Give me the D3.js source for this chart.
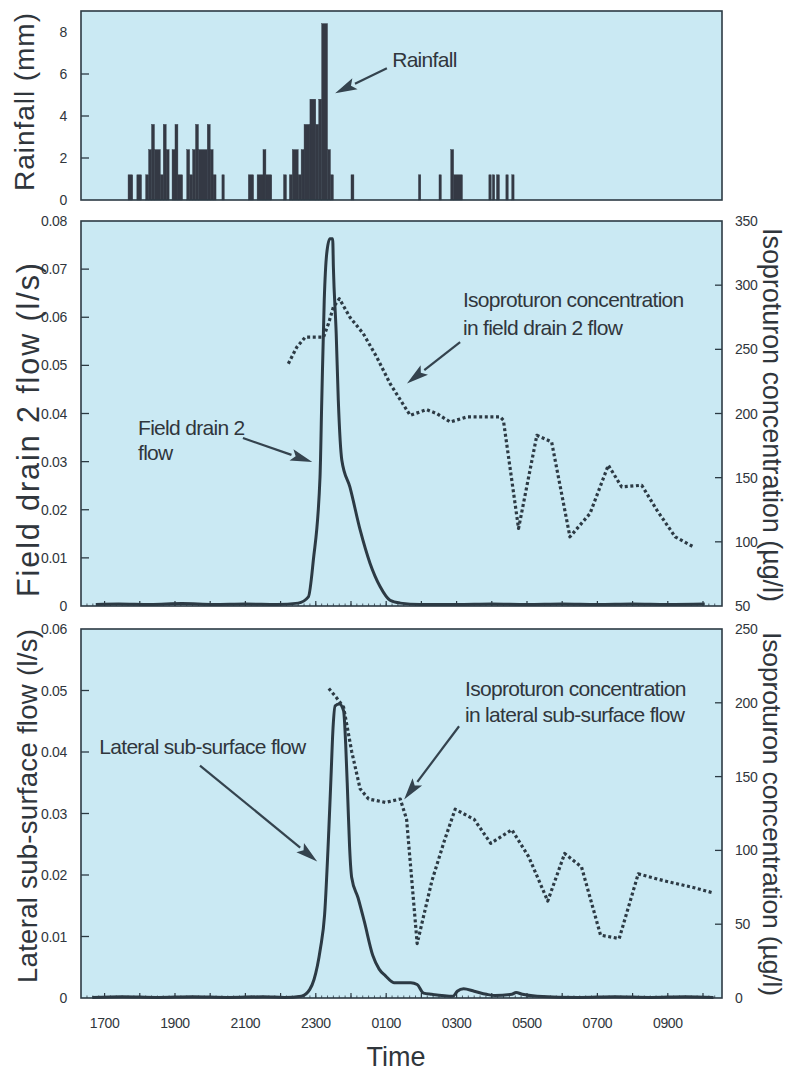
<!DOCTYPE html>
<html>
<head>
<meta charset="utf-8">
<script src="https://cdn.jsdelivr.net/npm/d3@7"></script>
<style>
  body { margin: 0; background: #ffffff; }
  svg { display: block; }
  text { font-family: "Liberation Sans", Arial, Helvetica, sans-serif; fill: #30363c; }
</style>
</head>
<body>
<svg id="chart" width="790" height="1074"></svg>
<script>
// ---------- Rainfall (tipping-bucket totals, minutes after 17:00) ----------
const rainStartMin = [40, 55, 70, 75, 80, 85, 95, 100, 105, 115, 120, 125, 140, 145, 150, 155, 160, 175, 180, 185, 200,
  245, 260, 270, 275, 305, 315, 320, 330, 335, 340, 350, 360, 365, 370, 380, 385, 420,
  535, 570, 590, 595, 655, 661, 668, 684, 694];
const rainEndMin = [48, 63, 75, 80, 85, 95, 100, 105, 110, 120, 125, 133, 145, 150, 155, 160, 175, 180, 185, 190, 204,
  254, 270, 275, 285, 310, 320, 330, 335, 340, 350, 360, 365, 370, 380, 385, 390, 425,
  539, 574, 595, 610, 659, 665, 673, 688, 698];
const rainMm = [1.2, 1.2, 1.2, 2.4, 3.6, 2.4, 1.2, 3.6, 2.4, 2.4, 3.6, 1.2, 2.4, 1.2, 2.4, 3.6, 2.4, 3.6, 2.4, 1.2, 1.2,
  1.2, 1.2, 2.4, 1.2, 1.2, 1.2, 2.4, 1.2, 2.4, 3.6, 4.8, 3.6, 4.8, 8.4, 2.4, 1.2, 1.2,
  1.2, 1.2, 2.4, 1.2, 1.2, 1.2, 1.2, 1.2, 1.2];

// ---------- Field drain 2 (time in clock hours, continuing past midnight) ----------
const drainFlowTime = [16.75, 17.4, 18.3, 19.2, 20.1, 21.0, 21.9, 22.5, 22.79, 22.93, 23.12, 23.17, 23.24, 23.31,
  23.40, 23.48, 23.50, 23.58, 23.64, 23.74, 23.97, 24.26, 24.54, 24.83, 25.11, 25.40, 25.96, 27.0, 28.0, 29.0,
  30.0, 31.0, 32.0, 33.0, 34.05];
const drainFlow = [0.0003, 0.0004, 0.0003, 0.0005, 0.0003, 0.0004, 0.0003, 0.0006, 0.0019, 0.0095, 0.0268, 0.0427,
  0.0635, 0.0732, 0.0763, 0.0763, 0.0704, 0.0566, 0.0427, 0.0303, 0.0247, 0.0158, 0.0089, 0.0040, 0.0012, 0.0006,
  0.0003, 0.0003, 0.0004, 0.0003, 0.0004, 0.0003, 0.0004, 0.0003, 0.0004];

const drainConcTime = [22.22, 22.46, 22.70, 23.22, 23.36, 23.50, 23.67, 23.97, 24.35, 24.73, 25.11, 25.68, 26.15,
  26.44, 26.82, 27.29, 28.24, 28.33, 28.76, 29.28, 29.70, 30.22, 30.79, 31.31, 31.69, 32.26, 32.69, 33.21, 33.73];
const drainConc = [238.8, 251.7, 259.5, 259.5, 270, 282.9, 289.4, 275, 262.2, 244, 223.3, 198.6, 203, 199.9, 193.4,
  197.3, 197.3, 194.7, 110.4, 183, 177.8, 103.9, 122.1, 159.7, 142.8, 144.1, 124.7, 103.9, 96.1];

// ---------- Lateral sub-surface flow ----------
const lateralFlowTime = [16.65, 17.5, 18.5, 19.5, 20.5, 21.5, 22.11, 22.59, 22.83, 22.95, 23.13, 23.25, 23.37, 23.43,
  23.49, 23.55, 23.67, 23.79, 23.85, 23.91, 23.96, 24.02, 24.20, 24.38, 24.62, 24.80, 24.98, 25.22, 25.70, 25.88,
  26.06, 26.30, 26.90, 27.02, 27.20, 27.50, 27.85, 28.09, 28.57, 28.69, 28.87, 29.29, 30.49, 31.5, 32.5, 33.5, 34.3];
const lateralFlow = [0.0001, 0.0002, 0.0001, 0.0002, 0.0001, 0.0002, 0.0001, 0.0003, 0.0014, 0.003, 0.008, 0.0135,
  0.0273, 0.0356, 0.0439, 0.0475, 0.0478, 0.0467, 0.0412, 0.0323, 0.0246, 0.0196, 0.0163, 0.0124, 0.0069, 0.0047,
  0.0036, 0.0025, 0.0025, 0.0022, 0.0008, 0.0006, 0.0003, 0.0011, 0.0015, 0.0011, 0.0006, 0.0004, 0.0006, 0.0009,
  0.0006, 0.0003, 0.0001, 0.0002, 0.0001, 0.0002, 0.0001];

const lateralConcTime = [23.37, 23.61, 23.79, 24.02, 24.26, 24.50, 24.98, 25.40, 25.58, 25.88, 26.30, 26.66, 26.96,
  27.50, 27.97, 28.57, 29.05, 29.59, 30.07, 30.55, 31.09, 31.62, 32.16, 32.88, 33.72, 34.26];
const lateralConc = [209.7, 202.8, 197, 167, 141.7, 134.8, 132.5, 134.8, 121, 36.9, 79.5, 107.1, 127.9, 121, 104.8,
  114, 95.6, 65.7, 97.9, 88.7, 42.6, 40.3, 84.1, 79.5, 74.9, 71.4];

// ---------- Axis ticks ----------
const timeTicks = [17, 19, 21, 23, 25, 27, 29, 31, 33];
const rainTicks = [0, 2, 4, 6, 8];
const drainFlowTicks = [0, 0.01, 0.02, 0.03, 0.04, 0.05, 0.06, 0.07, 0.08];
const drainConcTicks = [50, 100, 150, 200, 250, 300, 350];
const lateralFlowTicks = [0, 0.01, 0.02, 0.03, 0.04, 0.05, 0.06];
const lateralConcTicks = [0, 50, 100, 150, 200, 250];

// ---------- Layout ----------
const INK = "#2c3a44";
const FILL = "#cae9f3";
const left = 81, right = 722;
const x = d3.scaleLinear().domain([16.33, 34.54]).range([left, right]);

const svg = d3.select("#chart");

const yRain = d3.scaleLinear().domain([0, 9]).range([200, 11]);
const yDrain = d3.scaleLinear().domain([0, 0.08]).range([606, 221]);
const yDrainC = d3.scaleLinear().domain([50, 350]).range([606, 221]);
const yLat = d3.scaleLinear().domain([0, 0.06]).range([998, 629]);
const yLatC = d3.scaleLinear().domain([0, 250]).range([998, 629]);

function panel(y) {
  const [b, t] = y.range();
  svg.append("rect").attr("x", left).attr("y", t).attr("width", right - left).attr("height", b - t)
    .attr("fill", FILL).attr("stroke", "none");
}
function frame(y) {
  const [b, t] = y.range();
  svg.append("rect").attr("x", left).attr("y", t).attr("width", right - left).attr("height", b - t)
    .attr("fill", "none").attr("stroke", INK).attr("stroke-width", 1.6);
}
function leftAxis(y, ticks, fmt) {
  const g = svg.append("g");
  g.selectAll("line").data(ticks.slice(1, -1)).join("line")
    .attr("x1", left).attr("x2", left + 8).attr("y1", d => y(d)).attr("y2", d => y(d))
    .attr("stroke", INK).attr("stroke-width", 1.3);
  g.selectAll("text").data(ticks).join("text")
    .attr("x", left - 14).attr("y", d => y(d)).attr("dy", "0.36em")
    .attr("text-anchor", "end").attr("font-size", 14).attr("letter-spacing", -0.3)
    .text(fmt);
}
function rightAxis(y, ticks) {
  const g = svg.append("g");
  g.selectAll("line").data(ticks.slice(1, -1)).join("line")
    .attr("x1", right - 7).attr("x2", right).attr("y1", d => y(d)).attr("y2", d => y(d))
    .attr("stroke", INK).attr("stroke-width", 1.3);
  g.selectAll("text").data(ticks).join("text")
    .attr("x", right + 13).attr("y", d => y(d)).attr("dy", "0.36em")
    .attr("text-anchor", "start").attr("font-size", 14).attr("letter-spacing", -0.3)
    .text(d => d);
}
function timeMinorTicks(y) {
  const base = y.range()[0];
  const minors = d3.range(16.5, 34.5, 1 / 6);
  svg.append("g").selectAll("line").data(minors).join("line")
    .attr("x1", d => x(d)).attr("x2", d => x(d)).attr("y1", base).attr("y2", base - 2.5)
    .attr("stroke", INK).attr("stroke-width", 0.8);
  svg.append("g").selectAll("line").data(d3.range(17, 35)).join("line")
    .attr("x1", d => x(d)).attr("x2", d => x(d)).attr("y1", base).attr("y2", base - 5)
    .attr("stroke", INK).attr("stroke-width", 1.2);
}
// Rotated axis title stretched along the axis to the given length
function yTitle(text, bx, cy, size, len, rot) {
  svg.append("text").attr("transform", `translate(${bx},${cy}) rotate(${rot})`)
    .attr("text-anchor", "middle").attr("font-size", size).attr("fill", "#3a3f44")
    .attr("textLength", len).attr("lengthAdjust", "spacing").text(text);
}
function note(lines, px, py, lh) {
  const t = svg.append("text").attr("x", px).attr("y", py).attr("font-size", 21)
    .attr("letter-spacing", -0.7).attr("fill", "#2f3d48");
  lines.forEach((s, i) => t.append("tspan").attr("x", px).attr("dy", i ? lh : 0).text(s));
}
function arrow(x1, y1, x2, y2) {
  const ang = Math.atan2(y2 - y1, x2 - x1);
  const L = 22, Wd = 6;
  const bx = x2 - L * Math.cos(ang), by = y2 - L * Math.sin(ang);
  svg.append("line").attr("x1", x1).attr("y1", y1).attr("x2", bx).attr("y2", by)
    .attr("stroke", "#34434e").attr("stroke-width", 2.2);
  const px = -Math.sin(ang) * Wd, py = Math.cos(ang) * Wd;
  svg.append("path")
    .attr("d", `M${x2},${y2}L${bx + px},${by + py}L${bx + L * 0.2 * Math.cos(ang)},${by + L * 0.2 * Math.sin(ang)}L${bx - px},${by - py}Z`)
    .attr("fill", "#34434e");
}

// ---------- Panels ----------
panel(yRain); panel(yDrain); panel(yLat);

// Rainfall bars (thin same-colour stroke closes seams between adjacent bins)
const rain = rainStartMin.map((s, i) => ({ t0: 17 + s / 60, t1: 17 + rainEndMin[i] / 60, v: rainMm[i] }));
svg.append("g").selectAll("rect").data(rain).join("rect")
  .attr("x", d => x(d.t0)).attr("width", d => x(d.t1) - x(d.t0))
  .attr("y", d => yRain(d.v)).attr("height", d => yRain(0) - yRain(d.v))
  .attr("fill", "#343944").attr("stroke", "#343944").attr("stroke-width", 0.4);

// Flow and concentration lines
const zip = (a, b) => a.map((t, i) => [t, b[i]]);
function drawLine(data, y, dashed, curve) {
  svg.append("path").datum(data)
    .attr("d", d3.line().x(d => x(d[0])).y(d => y(d[1])).curve(curve))
    .attr("fill", "none").attr("stroke", INK).attr("stroke-width", dashed ? 3.2 : 3)
    .attr("stroke-dasharray", dashed ? "3,2.6" : null).attr("stroke-linejoin", "round");
}
timeMinorTicks(yDrain);
timeMinorTicks(yLat);
drawLine(zip(drainFlowTime, drainFlow), yDrain, false, d3.curveMonotoneX);
drawLine(zip(drainConcTime, drainConc), yDrainC, true, d3.curveLinear);
drawLine(zip(lateralFlowTime, lateralFlow), yLat, false, d3.curveMonotoneX);
drawLine(zip(lateralConcTime, lateralConc), yLatC, true, d3.curveLinear);

frame(yRain); frame(yDrain); frame(yLat);

// Axes
const trim = d => d === 0 ? "0" : d3.format(".2f")(d);
leftAxis(yRain, rainTicks, d => d);
leftAxis(yDrain, drainFlowTicks, trim);
leftAxis(yLat, lateralFlowTicks, trim);
rightAxis(yDrainC, drainConcTicks);
rightAxis(yLatC, lateralConcTicks);

svg.append("g").selectAll("text").data(timeTicks).join("text")
  .attr("x", d => x(d)).attr("y", 1028).attr("text-anchor", "middle")
  .attr("font-size", 14).attr("letter-spacing", -0.4)
  .text(d => String(d % 24).padStart(2, "0") + "00");

svg.append("text").attr("x", 396).attr("y", 1066).attr("text-anchor", "middle")
  .attr("font-size", 27).attr("fill", "#3a3f44").text("Time");

// Axis titles
yTitle("Rainfall (mm)", 34, 102, 28, 178, -90);
yTitle("Field drain 2 flow (l/s)", 39, 430, 30.5, 334, -90);
yTitle("Lateral sub-surface flow (l/s)", 37, 806, 27.5, 354, -90);
yTitle("Isoproturon concentration (µg/l)", 763, 415, 27, 374, 90);
yTitle("Isoproturon concentration (µg/l)", 763, 814, 26.5, 364, 90);

// Annotations, anchored in data units
note(["Rainfall"], x(25.17), yRain(6.35), 0);
arrow(x(25.02), yRain(6.27), x(23.55), yRain(5.08));

note(["Isoproturon concentration", "in field drain 2 flow"], x(27.18), yDrainC(282.6), 28);
arrow(x(27.10), yDrainC(255.6), x(25.59), yDrainC(223.3));

note(["Field drain 2", "flow"], x(17.95), yDrain(0.0355), 25);
arrow(x(20.93), yDrain(0.0349), x(22.9), yDrain(0.0299));

note(["Isoproturon concentration", "in lateral sub-surface flow"], x(27.24), yLatC(204.5), 26);
arrow(x(27.07), yLatC(184.1), x(25.51), yLatC(134.5));

note(["Lateral sub-surface flow"], x(16.85), yLat(0.0396), 0);
arrow(x(19.71), yLat(0.0378), x(23.04), yLat(0.0222));
</script>
</body>
</html>
